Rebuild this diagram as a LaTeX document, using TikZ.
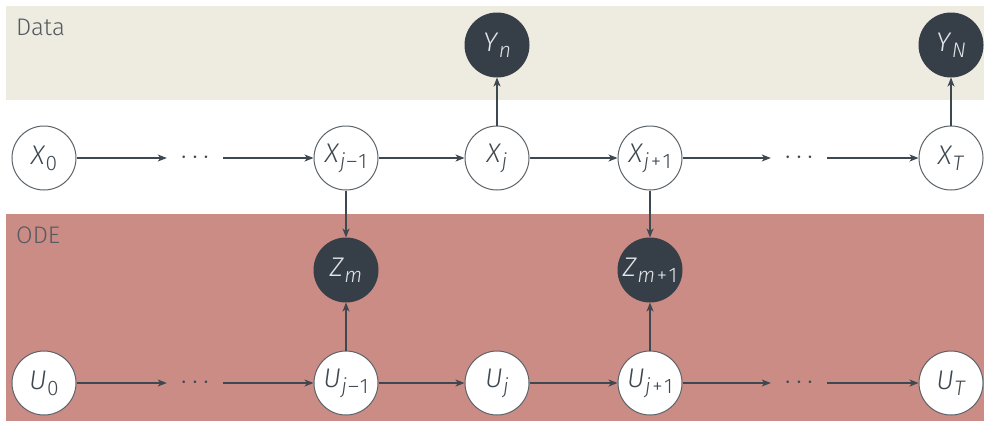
\documentclass[tikz,border=0pt]{standalone}
\usepackage{fontspec}
\setmainfont{Fira Sans Light}[ItalicFont={Fira Sans Light Italic}]
\usetikzlibrary{arrows.meta}

\definecolor{databg}{HTML}{EEEBE1}
\definecolor{odebg}{HTML}{CB8C86}
\definecolor{nodeline}{HTML}{5C6369}
\definecolor{edgeline}{HTML}{3E4850}
\definecolor{obsfill}{HTML}{363F48}
\definecolor{obstext}{HTML}{E2E4E6}
\definecolor{labeltext}{HTML}{555B60}

\newcommand{\rv}[2]{\textit{#1}\kern0.5pt\raisebox{-6pt}{\fontsize{21}{22}\selectfont #2}}
\newcommand{\mi}{\kern1pt\textendash\kern1pt}
\newcommand{\pl}{\kern1.5pt+\kern1.5pt}

\tikzset{
	latent/.style={circle, draw=nodeline, fill=white, line width=1pt,
		minimum size=64pt, inner sep=0pt, text=edgeline,
		font=\fontsize{27}{30}\selectfont},
	observed/.style={latent, draw=obsfill, fill=obsfill, text=obstext},
	dotsnode/.style={minimum width=56pt, minimum height=20pt, inner sep=0pt,
		text=edgeline, font=\fontsize{28}{30}\selectfont},
	edge/.style={draw=edgeline, line width=1.1pt,
		-{Stealth[length=9pt, width=7pt, inset=2.5pt]}},
	bandlabel/.style={anchor=base west, inner sep=0pt, text=labeltext,
		font=\fontsize{24}{26}\selectfont}
}

\begin{document}
\begin{tikzpicture}[x=1pt, y=-1pt]

	\useasboundingbox (0,0) rectangle (984,421);

	% Bands
	\fill[databg] (6,6) rectangle (984,100);
	\fill[odebg] (6,214) rectangle (984,421);
	\node[bandlabel] (datalabel) at (16,35) {Data};
	\node[bandlabel] (odelabel) at (16,243) {ODE};

	% State chain
	\node[latent] (X0) at (44,158) {\rv{X}{0}};
	\node[dotsnode] (Xdotsa) at (195,158) {$\cdots$};
	\node[latent] (Xjm) at (346,158) {\rv{X}{\textit{j}\mi1}};
	\node[latent] (Xj) at (497,158) {\rv{X}{\textit{j}}};
	\node[latent] (Xjp) at (650,158) {\rv{X}{\textit{j}\pl1}};
	\node[dotsnode] (Xdotsb) at (799,158) {$\cdots$};
	\node[latent] (XT) at (951,158) {\rv{X}{\textit{T}}};

	% Observations
	\node[observed] (Yn) at (497,45) {\rv{Y}{\textit{n}}};
	\node[observed] (YN) at (951,45) {\rv{Y}{\textit{N}}};

	% ODE observations
	\node[observed] (Zm) at (346,270) {\rv{Z}{\textit{m}}};
	\node[observed] (Zmp) at (650,270) {\rv{Z}{\textit{m}\pl1}};

	% Input chain
	\node[latent] (U0) at (44,383) {\rv{U}{0}};
	\node[dotsnode] (Udotsa) at (195,383) {$\cdots$};
	\node[latent] (Ujm) at (346,383) {\rv{U}{\textit{j}\mi1}};
	\node[latent] (Uj) at (497,383) {\rv{U}{\textit{j}}};
	\node[latent] (Ujp) at (650,383) {\rv{U}{\textit{j}\pl1}};
	\node[dotsnode] (Udotsb) at (799,383) {$\cdots$};
	\node[latent] (UT) at (951,383) {\rv{U}{\textit{T}}};

	% Edges
	\draw[edge] (X0) -- (Xdotsa);
	\draw[edge] (Xdotsa) -- (Xjm);
	\draw[edge] (Xjm) -- (Xj);
	\draw[edge] (Xj) -- (Xjp);
	\draw[edge] (Xjp) -- (Xdotsb);
	\draw[edge] (Xdotsb) -- (XT);

	\draw[edge] (U0) -- (Udotsa);
	\draw[edge] (Udotsa) -- (Ujm);
	\draw[edge] (Ujm) -- (Uj);
	\draw[edge] (Uj) -- (Ujp);
	\draw[edge] (Ujp) -- (Udotsb);
	\draw[edge] (Udotsb) -- (UT);

	\draw[edge] (Xj) -- (Yn);
	\draw[edge] (XT) -- (YN);
	\draw[edge] (Xjm) -- (Zm);
	\draw[edge] (Ujm) -- (Zm);
	\draw[edge] (Xjp) -- (Zmp);
	\draw[edge] (Ujp) -- (Zmp);

\end{tikzpicture}
\end{document}
